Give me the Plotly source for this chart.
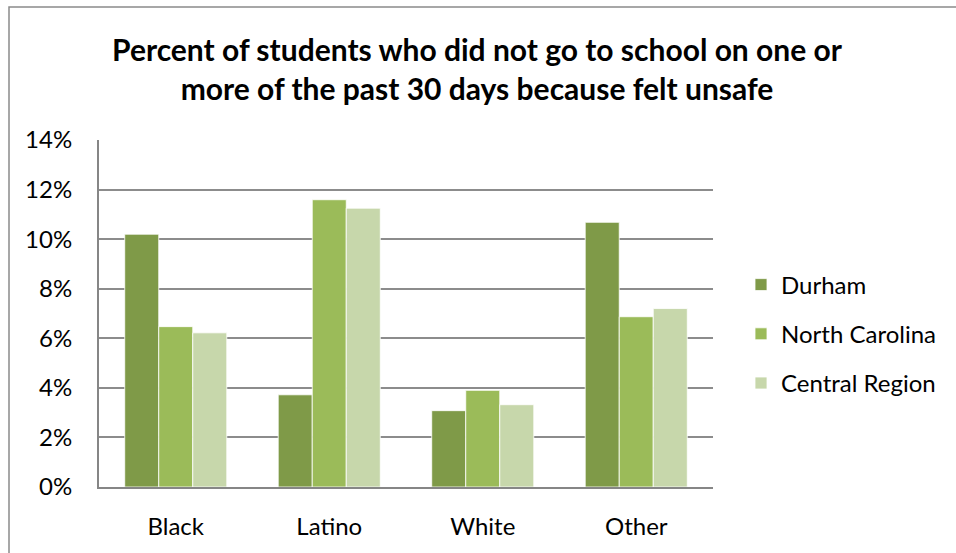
import plotly.graph_objects as go

categories = ["Black", "Latino", "White", "Other"]
durham = [10.2, 3.72, 3.08, 10.68]
north_carolina = [6.47, 11.59, 3.9, 6.87]
central_region = [6.22, 11.25, 3.32, 7.2]
series_names = ["Durham", "North Carolina", "Central Region"]
colors = ["#7F9A48", "#9BBB59", "#C7D7AB"]
y_ticks = [0, 2, 4, 6, 8, 10, 12, 14]
y_tick_labels = ["0%", "2%", "4%", "6%", "8%", "10%", "12%", "14%"]

FONT = "Lato"
W, H = 956, 553
L, R, T, B = 99, 243, 140, 66
pw, ph = W - L - R, H - T - B

fig = go.Figure()
for name, vals, col in zip(series_names, [durham, north_carolina, central_region], colors):
    fig.add_trace(go.Bar(
        x=categories, y=vals, name=name, legendgroup=name,
        marker=dict(color=col, line=dict(color="rgba(255,255,255,0.8)", width=1)),
    ))

fig.update_layout(
    width=W, height=H, autosize=False,
    margin=dict(l=L, r=R, t=T, b=B, pad=0, autoexpand=False),
    paper_bgcolor="white", plot_bgcolor="white",
    barmode="group", bargap=0.335, bargroupgap=0,
    font=dict(family=FONT, color="#000000", size=24),
    title=dict(
        text="<b>Percent of students who did not go to school on one or<br>more of the past 30 days because felt unsafe</b>",
        x=477 / W, xanchor="center", xref="container",
        y=1 - 61 / H, yanchor="middle", yref="container",
        font=dict(family=FONT, size=30, color="#000000"),
    ),
    legend=dict(
        x=(741 - L) / pw, xanchor="left", y=(487 - 334) / ph, yanchor="middle",
        font=dict(family=FONT, size=24), tracegroupgap=15,
        bgcolor="rgba(0,0,0,0)", itemwidth=30,
    ),
    xaxis=dict(
        showline=True, linecolor="#868686", linewidth=2, mirror=False,
        showgrid=False, ticks="", ticklabelstandoff=17, automargin=False,
        tickfont=dict(family=FONT, size=24),
    ),
    yaxis=dict(
        range=[0, 14], tickvals=y_ticks, ticktext=y_tick_labels,
        showline=True, linecolor="#868686", linewidth=2,
        showgrid=True, gridcolor="#8C8C8C", gridwidth=1.5,
        ticks="", ticklabelstandoff=20, zeroline=False, automargin=False,
        tickfont=dict(family=FONT, size=24),
    ),
    shapes=[dict(
        type="rect", xref="paper", yref="paper",
        x0=(9 - L) / pw, x1=(W + 20 - L) / pw,
        y0=(487 - (H + 20)) / ph, y1=(487 - 7) / ph,
        line=dict(color="#8A8A8A", width=1.5), fillcolor="rgba(0,0,0,0)", layer="below",
    )],
)

fig.write_html("out.html", config={"displayModeBar": False},
               post_script="document.body.style.margin='0';")
